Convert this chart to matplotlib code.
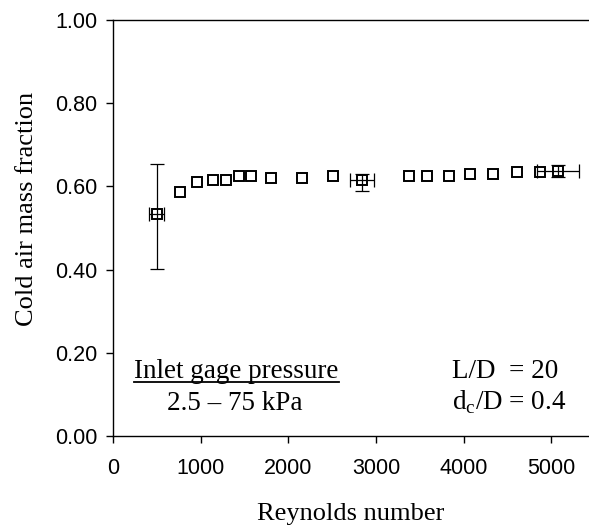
import numpy as np
import matplotlib.pyplot as plt
from matplotlib.lines import Line2D

# Reynolds number vs cold air mass fraction
reynolds = [499, 769, 955, 1138, 1294, 1435, 1572, 1800, 2161, 2511,
            2839, 3375, 3581, 3832, 4075, 4330, 4604, 4866, 5075]
cold_frac = [0.533, 0.586, 0.610, 0.615, 0.615, 0.624, 0.624, 0.619, 0.619, 0.624,
             0.615, 0.624, 0.624, 0.624, 0.629, 0.629, 0.634, 0.634, 0.637]

# points that carry error bars
err_re = [499, 2839, 5075]
err_frac = [0.533, 0.615, 0.637]
err_x = [84, 141, 241]
err_y_lo = [0.132, 0.027, 0.014]
err_y_hi = [0.122, 0.016, 0.014]

serif = ['Liberation Serif', 'DejaVu Serif']
sans = ['Liberation Sans', 'DejaVu Sans']

fig = plt.figure(figsize=(5.89, 5.27), dpi=100)
ax = fig.add_axes([113/589, 91/527, 476/589, 416/527])

ax.errorbar(err_re, err_frac, xerr=err_x, yerr=[err_y_lo, err_y_hi], fmt='none',
            ecolor='k', elinewidth=0.9, capsize=5, capthick=0.9, zorder=2)
ax.plot(reynolds, cold_frac, 's', mfc='none', mec='k', ms=7.5, mew=1.4, zorder=3)

ax.set_xlim(0, 5430)
ax.set_ylim(0, 1.0)
ax.set_xticks(np.arange(0, 5001, 1000))
ax.set_yticks(np.arange(0, 1.01, 0.2))
ax.set_yticklabels([f"{v:.2f}" for v in np.arange(0, 1.01, 0.2)])
ax.spines['right'].set_visible(False)
for s in ['left', 'bottom', 'top']:
    ax.spines[s].set_linewidth(1.0)
ax.tick_params(direction='out', length=5, width=1.0, labelsize=15.5, pad=6)
for lab in ax.get_xticklabels() + ax.get_yticklabels():
    lab.set_family(sans)
ax.tick_params(axis='x', pad=11)

ax.set_xlabel('Reynolds number', family=serif, fontsize=19)
ax.set_ylabel('Cold air mass fraction', family=serif, fontsize=19)
ax.xaxis.set_label_coords(0.5, -0.162)
ax.yaxis.set_label_coords(-0.158, 0.546)

fs = 19.5
t1 = ax.text(0.045, 0.139, 'Inlet gage pressure', transform=ax.transAxes,
             family=serif, fontsize=fs, ha='left', va='baseline')
ax.text(0.256, 0.0625, '2.5 \u2013 75 kPa', transform=ax.transAxes,
        family=serif, fontsize=fs, ha='center', va='baseline')
ax.text(0.7115, 0.139, 'L/D  = 20', transform=ax.transAxes,
        family=serif, fontsize=fs, ha='left', va='baseline')
ax.text(0.7115, 0.0625, r'd$_\mathregular{c}$/D = 0.4', transform=ax.transAxes,
        family=serif, fontsize=fs, ha='left', va='baseline')

# underline the heading
fig.canvas.draw()
bb = t1.get_window_extent().transformed(ax.transAxes.inverted())
ax.add_line(Line2D([bb.x0, bb.x1], [0.129, 0.129], transform=ax.transAxes,
                   color='k', lw=1.3))

fig.savefig('out.png', dpi=100)
